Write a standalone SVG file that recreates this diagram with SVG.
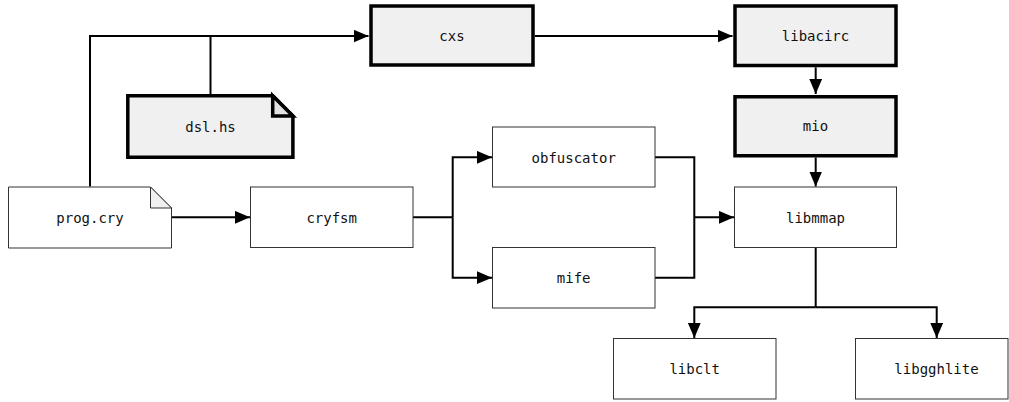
<svg xmlns="http://www.w3.org/2000/svg" width="1009" height="402" viewBox="0 0 1009 402">
<style>
.thin{fill:#ffffff;stroke:#333333;stroke-width:1}
.thick{fill:#f0f0f0;stroke:#000000;stroke-width:3.5}
.fold-thin{fill:#f0f0f0;stroke:#333333;stroke-width:1;stroke-linejoin:miter}
.fold-thick{fill:#e2e2e2;stroke:#000000;stroke-width:3.5;stroke-linejoin:miter}
.lbl{font-family:"DejaVu Sans Mono","Liberation Mono",monospace;font-size:14px;fill:#111111;text-anchor:middle}
.edge{fill:none;stroke:#000000;stroke-width:2}
</style>
<defs>
<marker id="arr" markerUnits="userSpaceOnUse" markerWidth="16" markerHeight="14" refX="15" refY="6.4" orient="auto">
<path d="M0,0 L15,6.4 L0,12.8 z" fill="#000000"/>
</marker>
</defs>
<g id="connectors">
<path class="edge" d="M90,186.5 V36 H368.5" marker-end="url(#arr)"/>
<path class="edge" d="M210.5,94 V36"/>
<path class="edge" d="M534.8,36 H732.5" marker-end="url(#arr)"/>
<path class="edge" d="M815.7,67.3 V94" marker-end="url(#arr)"/>
<path class="edge" d="M815.7,157.5 V186.5" marker-end="url(#arr)"/>
<path class="edge" d="M172,217.3 H250" marker-end="url(#arr)"/>
<path class="edge" d="M413,217.3 H452.7"/>
<path class="edge" d="M452.7,217.3 V157.3 H492" marker-end="url(#arr)"/>
<path class="edge" d="M452.7,217.3 V277.7 H492" marker-end="url(#arr)"/>
<path class="edge" d="M655,157.3 H694.3 V277.7 H655"/>
<path class="edge" d="M694.3,217.3 H734" marker-end="url(#arr)"/>
<path class="edge" d="M815.7,248 V307.3"/>
<path class="edge" d="M815.7,307.3 H694.3 V338" marker-end="url(#arr)"/>
<path class="edge" d="M815.7,307.3 H936.7 V338" marker-end="url(#arr)"/>
</g>
<g id="cxs">
<rect class="thick" x="371" y="6" width="162" height="59"/>
<text class="lbl" x="452" y="40.8">cxs</text>
</g>
<g id="libacirc">
<rect class="thick" x="735" y="6" width="161" height="59.5"/>
<text class="lbl" x="815.5" y="40.8">libacirc</text>
</g>
<g id="mio">
<rect class="thick" x="735" y="96.75" width="161" height="59"/>
<text class="lbl" x="815.5" y="131.3">mio</text>
</g>
<g id="dsl_hs">
<path class="thick" d="M127.8,95.8 H272.7 L292.9,116 V157.2 H127.8 Z"/>
<path class="fold-thick" d="M272.7,95.8 V116 H292.9 Z"/>
<text class="lbl" x="210.5" y="131.8">dsl.hs</text>
</g>
<g id="prog_cry">
<path class="thin" d="M8.5,187 H150.5 L171.5,208 V248 H8.5 Z"/>
<path class="fold-thin" d="M150.5,187 V208 H171.5 Z"/>
<text class="lbl" x="90" y="222.6">prog.cry</text>
</g>
<g id="cryfsm">
<rect class="thin" x="250.5" y="187" width="162.5" height="60.5"/>
<text class="lbl" x="331.7" y="222.6">cryfsm</text>
</g>
<g id="obfuscator">
<rect class="thin" x="492.5" y="127" width="162.5" height="60"/>
<text class="lbl" x="573.7" y="162.6">obfuscator</text>
</g>
<g id="mife">
<rect class="thin" x="492.5" y="247.5" width="162.5" height="60.5"/>
<text class="lbl" x="573.7" y="283">mife</text>
</g>
<g id="libmmap">
<rect class="thin" x="734.5" y="187" width="162" height="60.5"/>
<text class="lbl" x="815.5" y="222.6">libmmap</text>
</g>
<g id="libclt">
<rect class="thin" x="613.5" y="338.5" width="162.5" height="60.5"/>
<text class="lbl" x="694.7" y="374">libclt</text>
</g>
<g id="libgghlite">
<rect class="thin" x="855.5" y="338.5" width="152.5" height="60.5"/>
<text class="lbl" x="936.5" y="374">libgghlite</text>
</g>
</svg>
